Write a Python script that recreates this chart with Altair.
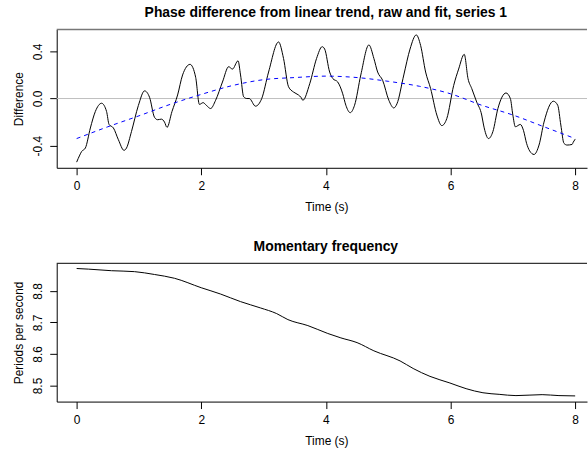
import altair as alt
import pandas as pd

# ---- data ----
raw_t = [0.00, 0.05, 0.08, 0.14, 0.22, 0.30, 0.40, 0.48, 0.52, 0.59, 0.67, 0.76, 0.80, 0.88, 0.99,
         1.09, 1.17, 1.25, 1.30, 1.36, 1.41, 1.45, 1.53, 1.62, 1.70, 1.82, 1.91, 1.97, 2.03, 2.08,
         2.15, 2.23, 2.34, 2.44, 2.50, 2.59, 2.63, 2.68, 2.73, 2.77, 2.87, 2.97, 3.08, 3.24, 3.32,
         3.40, 3.48, 3.56, 3.60, 3.63, 3.74, 3.85, 3.94, 3.98, 4.06, 4.11, 4.19, 4.27, 4.32, 4.39,
         4.46, 4.56, 4.69, 4.77, 4.83, 4.91, 5.01, 5.09, 5.14, 5.25, 5.35, 5.45, 5.52, 5.60, 5.68,
         5.78, 5.86, 5.94, 6.05, 6.13, 6.22, 6.28, 6.34, 6.42, 6.50, 6.53, 6.61, 6.68, 6.76, 6.89,
         6.96, 7.00, 7.04, 7.12, 7.17, 7.22, 7.27, 7.34, 7.42, 7.50, 7.65, 7.72, 7.77, 7.82, 7.87,
         7.95, 7.97, 8.00]
raw_v = [-0.54, -0.48, -0.45, -0.42, -0.25, -0.11, -0.04, -0.11, -0.22, -0.25, -0.35, -0.44, -0.42, -0.28, -0.06,
         0.065, 0.01, -0.16, -0.18, -0.175, -0.20, -0.245, -0.11, 0.03, 0.20, 0.29, 0.18, -0.05, -0.035, -0.057,
         -0.085, -0.015, 0.14, 0.27, 0.25, 0.32, 0.20, 0.015, 0.0, 0.0, -0.065, 0.0, 0.225, 0.48, 0.34,
         0.10, 0.055, 0.03, 0.01, -0.015, 0.125, 0.34, 0.44, 0.42, 0.225, 0.17, 0.14, 0.04, -0.057, -0.12,
         -0.057, 0.20, 0.455, 0.34, 0.225, 0.155, -0.015, -0.08, -0.045, 0.20, 0.42, 0.54, 0.45, 0.225, 0.085,
         -0.14, -0.23, -0.17, 0.11, 0.25, 0.375, 0.17, 0.085, -0.03, -0.14, -0.225, -0.34, -0.28, -0.085, 0.047,
         0.0, -0.14, -0.24, -0.22, -0.27, -0.38, -0.445, -0.475, -0.395, -0.20, -0.023, -0.057, -0.225, -0.38, -0.395,
         -0.39, -0.37, -0.345]

fit_t = [0.0, 0.5, 1.0, 1.5, 2.0, 2.5, 3.0, 3.5, 4.0, 4.5, 5.0, 5.5, 6.0, 6.5, 7.0, 7.5, 8.0]
fit_v = [-0.34, -0.24, -0.147, -0.05, 0.035, 0.11, 0.16, 0.178, 0.19, 0.178, 0.146, 0.104, 0.04, -0.057, -0.14, -0.24, -0.34]

freq_t = [0.00, 0.19, 0.56, 0.93, 1.25, 1.57, 2.00, 2.31, 2.63, 2.95, 3.21, 3.39, 3.71, 4.03, 4.24,
          4.50, 4.77, 5.19, 5.40, 5.67, 5.99, 6.25, 6.52, 6.78, 7.05, 7.47, 7.74, 8.00]
freq_v = [8.871, 8.869, 8.864, 8.861, 8.852, 8.840, 8.810, 8.790, 8.766, 8.746, 8.728, 8.709, 8.690, 8.665, 8.651,
          8.636, 8.610, 8.578, 8.554, 8.529, 8.508, 8.490, 8.477, 8.472, 8.468, 8.471, 8.468, 8.467]

x_ticks = [0, 2, 4, 6, 8]
top_y_ticks = [-0.4, -0.2, 0.0, 0.2, 0.4]
bot_y_ticks = [8.5, 8.6, 8.7, 8.8]

raw_df = pd.DataFrame({"t": raw_t, "v": raw_v})
fit_df = pd.DataFrame({"t": fit_t, "v": fit_v})
freq_df = pd.DataFrame({"t": freq_t, "v": freq_v})
zero_df = pd.DataFrame({"h": [0.0]})
one_df = pd.DataFrame({"a": [0]})

W = 533
H = 139
FONT = "Liberation Sans"
X_DOMAIN = [-0.32, 8.19]

def x_enc():
    return alt.X("t:Q", scale=alt.Scale(domain=X_DOMAIN, nice=False, zero=False),
                 axis=alt.Axis(values=x_ticks, title="Time (s)", format="d",
                               labelPadding=6, titleX=271, titleY=39,
                               titleAlign="center", titleBaseline="middle"))

top_y_scale = alt.Scale(domain=[-0.588, 0.586], nice=False, zero=False)
top_y_axis = alt.Axis(values=top_y_ticks, title="Difference", labelAngle=-90,
                      labelAlign="center", labelBaseline="bottom", labelPadding=5,
                      labelExpr="round(datum.value*10) % 4 == 0 ? (datum.value < -0.01 ? '-' + format(-datum.value, '.1f') : format(abs(datum.value), '.1f')) : ''",
                      titleX=-38, titleY=H / 2, titleAngle=-90,
                      titleAlign="center", titleBaseline="middle")

bot_y_scale = alt.Scale(domain=[8.449, 8.8875], nice=False, zero=False)
bot_y_axis = alt.Axis(values=bot_y_ticks, title="Periods per second", labelAngle=-90,
                      labelAlign="center", labelBaseline="bottom", labelPadding=5,
                      format=".1f",
                      titleX=-38, titleY=H / 2, titleAngle=-90,
                      titleAlign="center", titleBaseline="middle")

zero_line = alt.Chart(zero_df).mark_rule(color="#bebebe", strokeWidth=1).encode(
    y=alt.Y("h:Q", scale=top_y_scale, axis=top_y_axis))
raw_line = alt.Chart(raw_df).mark_line(color="black", strokeWidth=1, interpolate="monotone").encode(
    x=x_enc(), y=alt.Y("v:Q", scale=top_y_scale, axis=top_y_axis))
fit_line = alt.Chart(fit_df).mark_line(color="#0000ff", strokeWidth=1, strokeDash=[4, 4],
                                       interpolate="monotone").encode(
    x=alt.X("t:Q", scale=alt.Scale(domain=X_DOMAIN, nice=False, zero=False)),
    y=alt.Y("v:Q", scale=top_y_scale))
top_border = alt.Chart(one_df).mark_rule(color="#777777", strokeWidth=1.5).encode(
    x=alt.value(0), x2=alt.value(W), y=alt.value(0))

top = alt.layer(zero_line, raw_line, fit_line, top_border).properties(
    width=W, height=H,
    title=alt.TitleParams("Phase difference from linear trend, raw and fit, series 1",
                          offset=-2, dx=4, baseline="alphabetic", frame="group"))

freq_line = alt.Chart(freq_df).mark_line(color="black", strokeWidth=1, interpolate="monotone").encode(
    x=x_enc(), y=alt.Y("v:Q", scale=bot_y_scale, axis=bot_y_axis))
bot_border = alt.Chart(one_df).mark_rule(color="black", strokeWidth=1).encode(
    x=alt.value(0), x2=alt.value(W), y=alt.value(0))

bottom = alt.layer(freq_line, bot_border).properties(
    width=W, height=H,
    title=alt.TitleParams("Momentary frequency", offset=-2, dx=4,
                          baseline="alphabetic", frame="group"))

chart = alt.vconcat(top, bottom, spacing=96, bounds="flush").resolve_scale(
    x="independent", y="independent"
).properties(
    padding={"left": 12, "top": 4.5, "right": 0, "bottom": 0},
    background="white"
).configure_view(stroke=None).configure_axis(
    labelFont=FONT, titleFont=FONT, labelFontSize=12, titleFontSize=12,
    titleFontWeight="normal", labelColor="black", titleColor="black",
    domainColor="black", tickColor="black", tickSize=7, grid=False,
    domainWidth=1, tickWidth=1
).configure_title(
    font=FONT, fontSize=14, fontWeight="bold", anchor="middle", color="black"
)

chart.save("out.html", embed_options={"renderer": "svg", "actions": False})
